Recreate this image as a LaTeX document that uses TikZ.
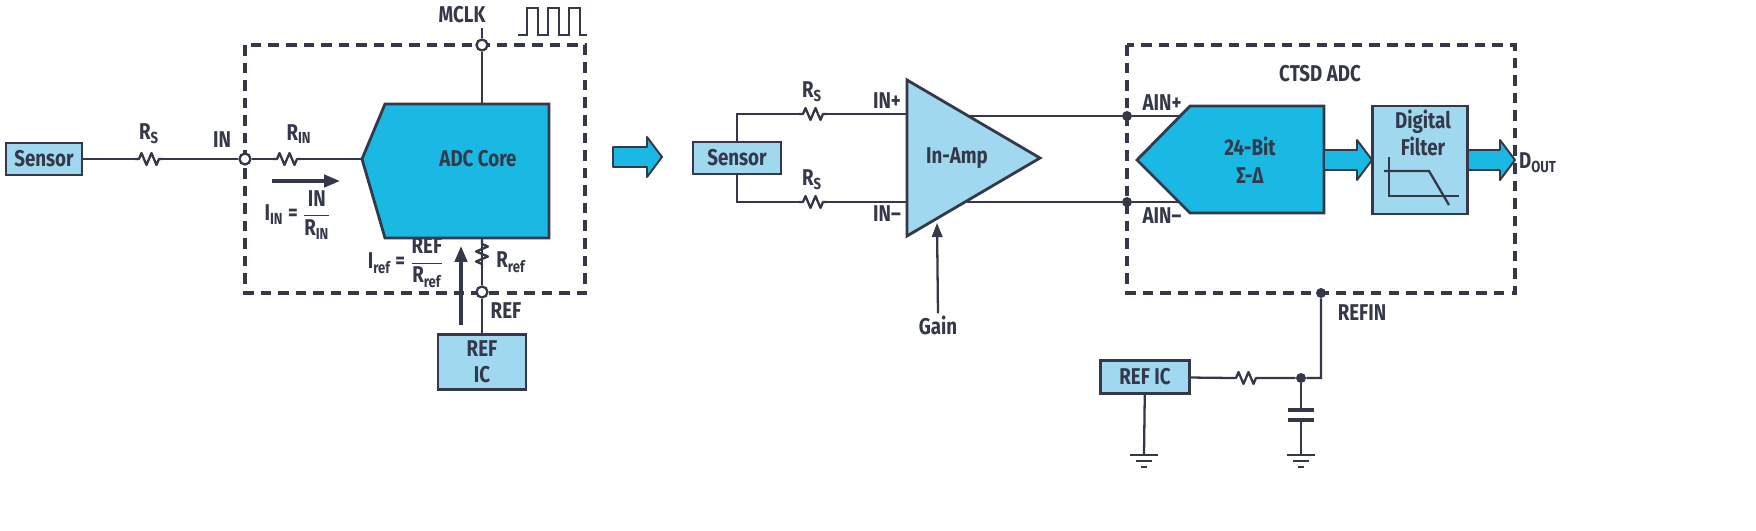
\documentclass[tikz,border=0pt]{standalone}
\usepackage{amsmath}
\usepackage{fontspec}
\setmainfont{Fira Sans}[FakeStretch=0.82]
\usetikzlibrary{arrows.meta, positioning, calc}
\definecolor{wire}{RGB}{52,56,72}
\definecolor{boxblue}{RGB}{160,216,240}
\definecolor{coreblue}{RGB}{26,185,228}
\tikzset{
  wire/.style={draw=wire, line width=1.3pt},
  box/.style={rectangle, draw=wire, fill=boxblue, line width=1.6pt, align=center,
    font=\fontsize{13}{14}\selectfont\bfseries, text=wire},
  lbl/.style={font=\fontsize{13}{14}\selectfont\bfseries, text=wire, inner sep=1pt},
  pin/.style={circle, draw=wire, fill=white, line width=1.3pt, minimum size=0.22cm, inner sep=0pt},
  dot/.style={circle, fill=wire, minimum size=0.2cm, inner sep=0pt},
  frame/.style={draw=wire, line width=1.8pt, dash pattern=on 6pt off 4pt},
  pics/hres/.style={code={
    \coordinate (-w) at (-14,0); \coordinate (-e) at (14,0);
    \draw[wire, line join=round] (-14,0) -- (-10,0) -- (-7.5,-6) -- (-2.5,6) -- (2.5,-6)
      -- (7.5,6) -- (10,0) -- (14,0);}},
  pics/fatarrow/.style={code={
    \draw[draw=wire, fill=coreblue, line width=1.1pt, line join=round]
      (0,-10) -- (#1-15,-10) -- (#1-15,-20) -- (#1,0) -- (#1-15,20) -- (#1-15,10) -- (0,10) -- cycle;}},
  pics/gnd/.style={code={
    \draw[wire, line width=1.6pt] (-14,0) -- (14,0) (-8,6) -- (8,6) (-3,12) -- (3,12);}}
}
\begin{document}
\begin{tikzpicture}[x=0.02cm, y=-0.02cm]
\useasboundingbox (0,0) rectangle (1756,531);

% ---- Left: conventional ADC ----
\draw[frame] (245,45) rectangle (585,293);
\node[box, minimum width=1.52cm, minimum height=0.64cm] (sensorA) at (44,159) {Sensor};
\pic (rsA) at (149,159) {hres};
\node[pin] (inpin) at (245,159) {};
\pic (rin) at (287,159) {hres};
\coordinate (coretip) at (362,159);
\draw[draw=wire, fill=coreblue, line width=1.6pt, line join=miter]
  (coretip) -- (385,104) -- (549,104) -- (549,238) -- (385,238) -- cycle;
\node[lbl] (corelbl) at (478,159) {ADC Core};
\draw[wire] (sensorA) -- (rsA-w) (rsA-e) -- (inpin) -- (rin-w) (rin-e) -- (coretip);
\node[lbl] at (149,134) {R\textsubscript{S}};
\node[lbl] (inlbl) at (222,140) {IN};
\node[lbl] at (299,134) {R\textsubscript{IN}};
\coordinate (iinS) at (272,181);
\coordinate (iinE) at (340,181);
\draw[wire, line width=1.8pt, -{Triangle[length=9pt,width=7pt]}] (iinS) -- (iinE);
\node[lbl] (iinlbl) at (298,215) {I\textsubscript{IN} = $\dfrac{\text{IN}}{\text{R\textsubscript{IN}}}$};

% clock
\node[pin] (mclkpin) at (482,45) {};
\coordinate (mclktop) at (482,28);
\node[lbl] (mclklbl) at (462,15) {MCLK};
\draw[wire] (mclktop) -- (mclkpin) -- (482,104);
\draw[wire, line width=1.2pt] (518,35) -- (527,35) -- (527,8) -- (538,8) -- (538,35) -- (548,35)
  -- (548,8) -- (559,8) -- (559,35) -- (569,35) -- (569,8) -- (580,8) -- (580,35) -- (587,35);

% reference
\pic[rotate=90] (rref) at (482,254) {hres};
\node[pin] (refpin) at (482,292) {};
\node[box, minimum width=1.76cm, minimum height=1.04cm, font=\fontsize{13}{15}\selectfont\bfseries] (refA) at (482,362) {REF\\IC};
\draw[wire] (482,238) -- (rref-w) (rref-e) -- (refpin) -- (refA);
\node[lbl] at (511,262) {R\textsubscript{ref}};
\node[lbl] (reflbl) at (506,311) {REF};
\coordinate (irefS) at (461,325);
\coordinate (irefE) at (461,246);
\draw[wire, line width=1.8pt, -{Triangle[length=9pt,width=7pt]}] (irefS) -- (irefE);
\node[lbl] (ireflbl) at (406,263) {I\textsubscript{ref} = $\dfrac{\text{REF}}{\text{R\textsubscript{ref}}}$};

\pic at (613,157) {fatarrow=49};

% ---- Right: CTSD signal chain ----
\draw[frame] (1127,45) rectangle (1515,293);
\node[lbl] (ctsdlbl) at (1320,74) {CTSD ADC};
\node[box, minimum width=1.76cm, minimum height=0.64cm] (sensorB) at (737,158) {Sensor};
\coordinate (ampP) at (907,114);
\coordinate (ampN) at (907,202);
\draw[draw=wire, fill=boxblue, line width=1.6pt, line join=miter]
  (907,80) -- (1040,158) -- (907,236) -- cycle;
\node[lbl] (amplbl) at (957,158) {In-Amp};
\pic (rsP) at (813,114) {hres};
\pic (rsN) at (813,202) {hres};
\draw[wire] (sensorB.north) |- (rsP-w) (rsP-e) -- (ampP);
\draw[wire] (sensorB.south) |- (rsN-w) (rsN-e) -- (ampN);
\node[lbl] at (812,92) {R\textsubscript{S}};
\node[lbl] at (812,180) {R\textsubscript{S}};
\node[lbl] at (887,101) {IN+};
\node[lbl] at (887,214) {IN–};
\node[lbl] (gainlbl) at (938,325) {Gain};
\draw[wire, -{Triangle[length=8pt,width=6pt]}] (gainlbl.north) -- (937,223);

\node[dot] (ainP) at (1127,116) {};
\node[dot] (ainN) at (1127,202) {};
\draw[wire] (967,116) -- (ainP) -- (1180,116);
\draw[wire] (967,202) -- (ainN) -- (1180,202);
\node[lbl] at (1162,103) {AIN+};
\node[lbl] at (1162,216) {AIN–};
\draw[draw=wire, fill=coreblue, line width=1.6pt, line join=miter]
  (1137,160) -- (1190,106) -- (1324,106) -- (1324,213) -- (1190,213) -- cycle;
\node[lbl, align=center] (sdlbl) at (1250,160) {24-Bit\\[2pt]Σ-Δ};
\pic at (1324,160) {fatarrow=48};
\node[box, minimum width=1.9cm, minimum height=2.16cm] (filt) at (1420,160) {};
\node[lbl, align=center] (filtlbl) at (1423,133) {Digital\\[1pt]Filter};
\draw[wire] (1389,157) -- (1389,196) -- (1459,196);
\draw[wire] (1384,171) -- (1429,171) -- (1449,205);
\pic at (1468,160) {fatarrow=47};
\node[lbl, anchor=west] (dout) at (1517,163) {D\textsubscript{OUT}};

% reference network
\node[dot] (refin) at (1321,293) {};
\node[lbl] (refinlbl) at (1362,313) {REFIN};
\node[box, minimum width=1.78cm, minimum height=0.66cm] (refB) at (1145,377) {REF IC};
\pic (rflt) at (1246,378) {hres};
\node[dot] (cnode) at (1301,378) {};
\draw[wire] (refB) -- (rflt-w) (rflt-e) -- (cnode) -| (refin);
\coordinate (capT) at (1301,410);
\coordinate (capB) at (1301,420);
\draw[wire] (cnode) -- (capT) (capB) -- (1301,455);
\draw[wire, line width=1.8pt] (1288,410) -- (1314,410) (1288,420) -- (1314,420);
\pic at (1301,455) {gnd};
\draw[wire] (refB) -- (1144,455);
\pic at (1144,455) {gnd};
\end{tikzpicture}
\end{document}
